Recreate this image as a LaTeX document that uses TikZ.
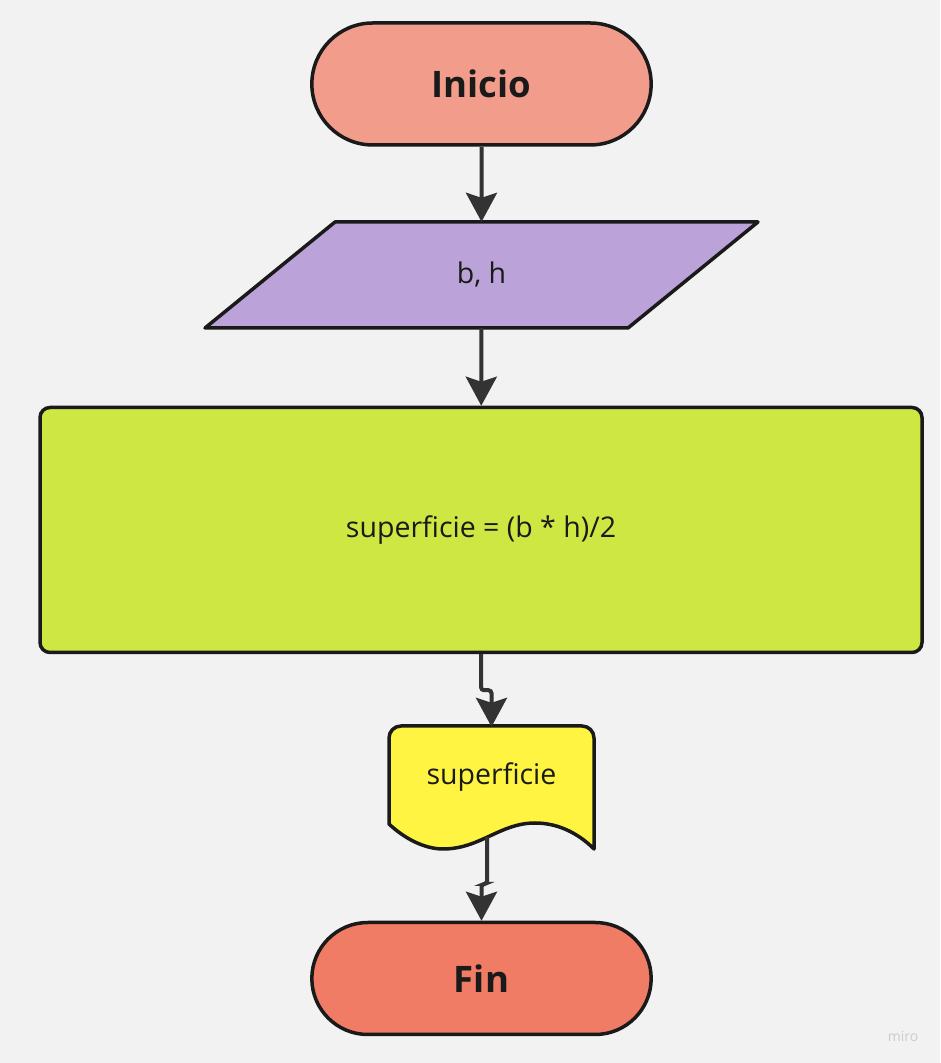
\documentclass[tikz,border=0pt]{standalone}
\usepackage{fontspec}
\setmainfont{Open Sans}
\usepackage{tikz}
\usetikzlibrary{arrows.meta,shapes.misc}
\definecolor{bg}{HTML}{F2F2F2}
\definecolor{ln}{HTML}{1A1A1A}
\definecolor{ar}{HTML}{333333}
\definecolor{cinicio}{HTML}{F29D8B}
\definecolor{cdatos}{HTML}{BBA3D9}
\definecolor{cproceso}{HTML}{CFE742}
\definecolor{csalida}{HTML}{FFF441}
\definecolor{cfin}{HTML}{F07C65}
\begin{document}
\begin{tikzpicture}[x=1pt,y=1pt]
							\tikzstyle{term}=[rounded rectangle,draw=ln,line width=3.5pt,minimum width=346pt,font=\fontsize{36.5}{40}\selectfont\bfseries,text=ln]
							\tikzstyle{txt}=[font=\fontsize{28.5}{32}\selectfont,text=ln]
							\tikzstyle{arrow}=[draw=ar,line width=4pt,rounded corners=3pt,-{Stealth[length=29pt,width=31pt,inset=5pt]}]
							\fill[bg] (0,0) rectangle (940,1063);
							\useasboundingbox (0,0) rectangle (940,1063);
							\node[term,fill=cinicio,minimum height=122pt] (1) at (481.5,979) {Inicio};
							\draw[draw=ln,line width=3.5pt,fill=cdatos,line join=round] (335,841) -- (758,841) -- (628,735) -- (205,735) -- cycle;
							\node[txt,minimum width=300pt,minimum height=106pt] (2) at (481.5,788) {b, h};
							\node[txt,draw=ln,line width=3.5pt,fill=cproceso,rounded corners=10pt,minimum width=882pt,minimum height=245pt] (3) at (481,533) {superficie = (b * h)/2};
							\draw[draw=ln,line width=3.5pt,fill=csalida,line join=round] (389,239) -- (389,325) arc[start angle=180,end angle=90,radius=12] -- (582,337) arc[start angle=90,end angle=0,radius=12] -- (594,214) .. controls (580,228) and (560,240) .. (535,240) .. controls (500,240) and (480,214) .. (443,214) .. controls (425,214) and (405,224) .. (389,239) -- cycle;
							\node[txt,minimum width=180pt,minimum height=100pt] (4) at (491.5,286) {superficie};
							\coordinate (6) at (487,226);
							\node[term,fill=cfin,minimum height=112pt] (5) at (481.5,84.5) {Fin};
							\node[font=\fontsize{14}{16}\selectfont,text=black!20] (7) at (903,27) {miro};
							\draw[arrow] (1) -- (2.north);
							\draw[arrow] (2) -- (3);
							\draw[arrow] (3.south) -- ++(0,-36) -| (4.north);
							\draw[arrow] (6) -- ++(0,-47) -| (5.north);
\end{tikzpicture}
\end{document}
